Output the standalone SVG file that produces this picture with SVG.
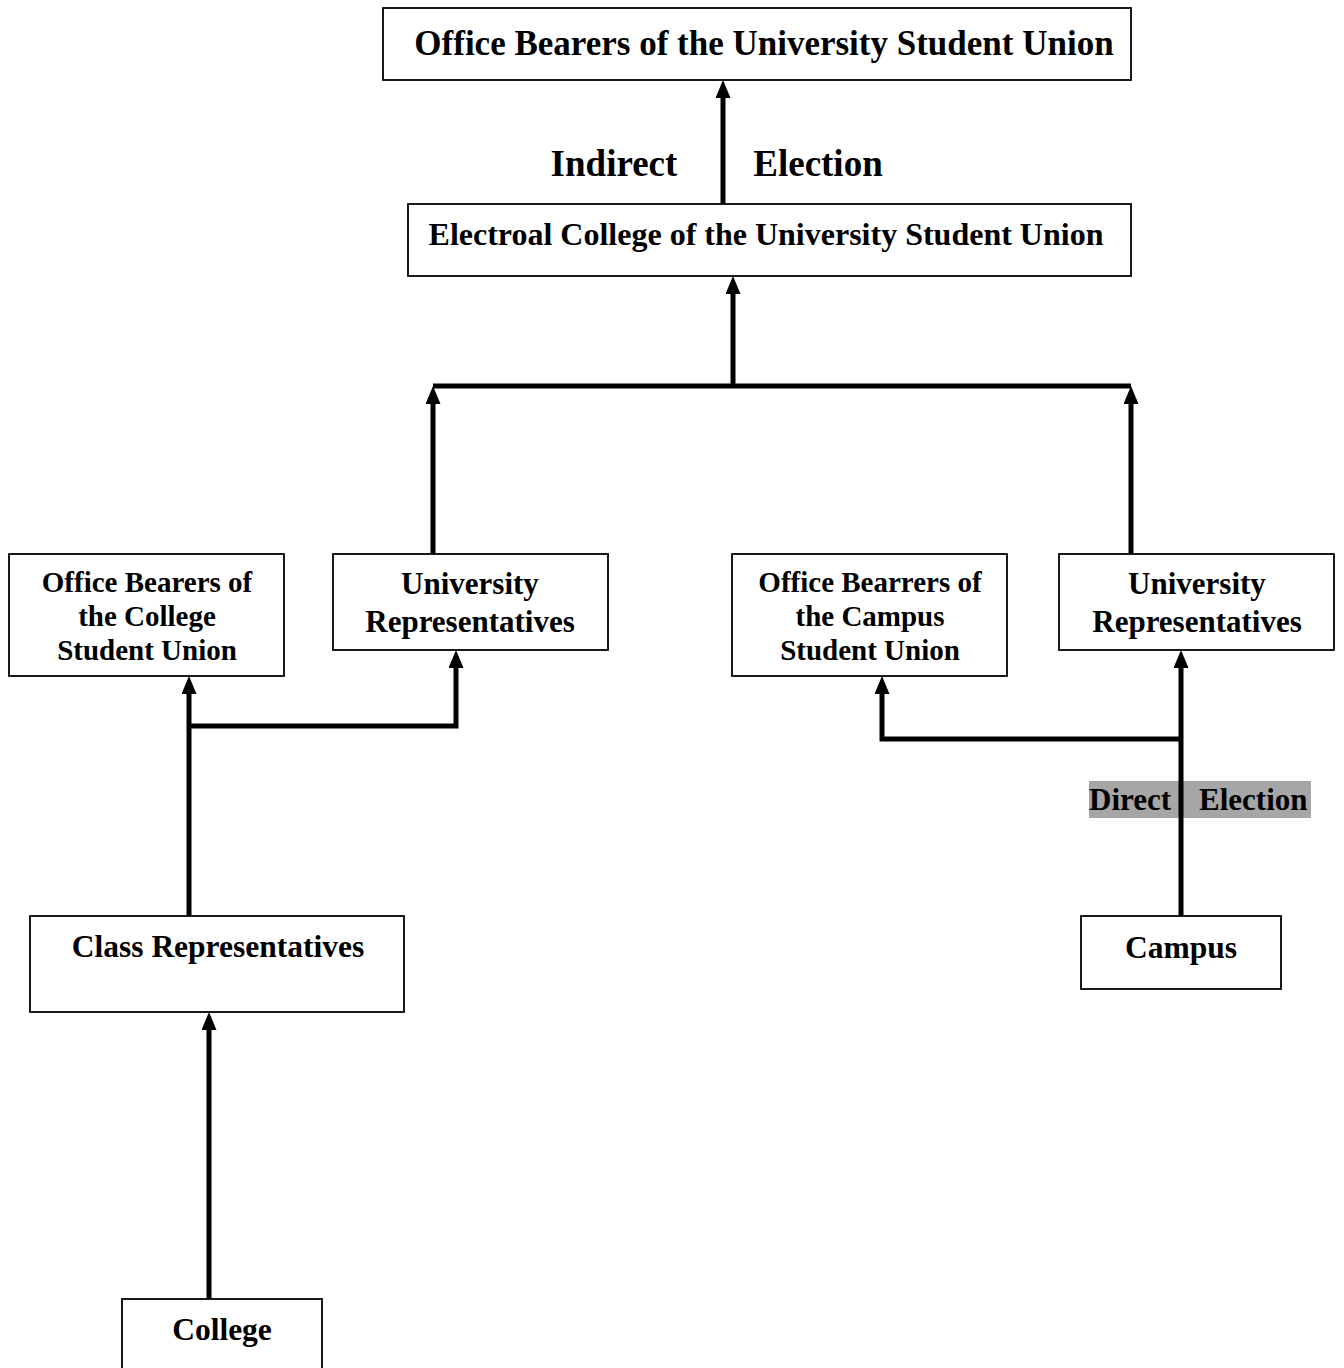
<svg xmlns="http://www.w3.org/2000/svg" width="1344" height="1368" viewBox="0 0 1344 1368">
<style>
.box{fill:#fff;stroke:#000;stroke-width:1.8}
.t{font-family:"Liberation Serif","Times New Roman",serif;font-weight:bold;fill:#000;text-anchor:middle}
.c{fill:none;stroke:#000;stroke-width:5;stroke-linecap:butt;stroke-linejoin:miter}
</style>
<defs>
<marker id="ah" viewBox="0 0 18 15" refX="0" refY="7.5" markerWidth="18" markerHeight="15" markerUnits="userSpaceOnUse" orient="auto">
<path d="M0,0 L18,7.5 L0,15 z" fill="#000"/>
</marker>
</defs>
<rect width="1344" height="1368" fill="#fff"/>

<g id="label-direct">
<rect x="1089" y="781" width="222" height="37" fill="#a6a6a6"/>
<text class="t" x="1089" y="810" font-size="31" style="text-anchor:start">Direct</text>
<text class="t" x="1199" y="810" font-size="31" style="text-anchor:start">Election</text>
</g>

<g id="connectors">
<path class="c" d="M723,204 V98" marker-end="url(#ah)"/>
<path class="c" d="M733,386 V294" marker-end="url(#ah)"/>
<path class="c" d="M433,386 H1131"/>
<path class="c" d="M433,554 V404" marker-end="url(#ah)"/>
<path class="c" d="M1131,554 V404" marker-end="url(#ah)"/>
<path class="c" d="M189,916 V694" marker-end="url(#ah)"/>
<path class="c" d="M189,726 H456 V668" marker-end="url(#ah)"/>
<path class="c" d="M1181,916 V668" marker-end="url(#ah)"/>
<path class="c" d="M1181,739 H882 V694" marker-end="url(#ah)"/>
<path class="c" d="M209,1299 V1030" marker-end="url(#ah)"/>
</g>

<g id="label-indirect">
<text class="t" x="614" y="176" font-size="37">Indirect</text>
<text class="t" x="818" y="176" font-size="37">Election</text>
</g>

<g id="node-ob-university">
<rect class="box" x="383" y="8" width="748" height="72"/>
<text class="t" x="764" y="55" font-size="35">Office Bearers of the University Student Union</text>
</g>

<g id="node-electoral-college">
<rect class="box" x="408" y="204" width="723" height="72"/>
<text class="t" x="766" y="245" font-size="32">Electroal College of the University Student Union</text>
</g>

<g id="node-ob-college">
<rect class="box" x="9" y="554" width="275" height="122"/>
<text class="t" x="147" y="592" font-size="29">Office Bearers of</text>
<text class="t" x="147" y="626" font-size="29">the College</text>
<text class="t" x="147" y="660" font-size="29">Student Union</text>
</g>

<g id="node-univ-rep-left">
<rect class="box" x="333" y="554" width="275" height="96"/>
<text class="t" x="470" y="594" font-size="31">University</text>
<text class="t" x="470" y="632" font-size="31">Representatives</text>
</g>

<g id="node-ob-campus">
<rect class="box" x="732" y="554" width="275" height="122"/>
<text class="t" x="870" y="592" font-size="29">Office Bearrers of</text>
<text class="t" x="870" y="626" font-size="29">the Campus</text>
<text class="t" x="870" y="660" font-size="29">Student Union</text>
</g>

<g id="node-univ-rep-right">
<rect class="box" x="1059" y="554" width="275" height="96"/>
<text class="t" x="1197" y="594" font-size="31">University</text>
<text class="t" x="1197" y="632" font-size="31">Representatives</text>
</g>

<g id="node-class-rep">
<rect class="box" x="30" y="916" width="374" height="96"/>
<text class="t" x="218" y="957" font-size="31.5">Class Representatives</text>
</g>

<g id="node-campus">
<rect class="box" x="1081" y="916" width="200" height="73"/>
<text class="t" x="1181" y="958" font-size="31.5">Campus</text>
</g>

<g id="node-college">
<rect class="box" x="122" y="1299" width="200" height="80"/>
<text class="t" x="222" y="1340" font-size="31.5">College</text>
</g>
</svg>
